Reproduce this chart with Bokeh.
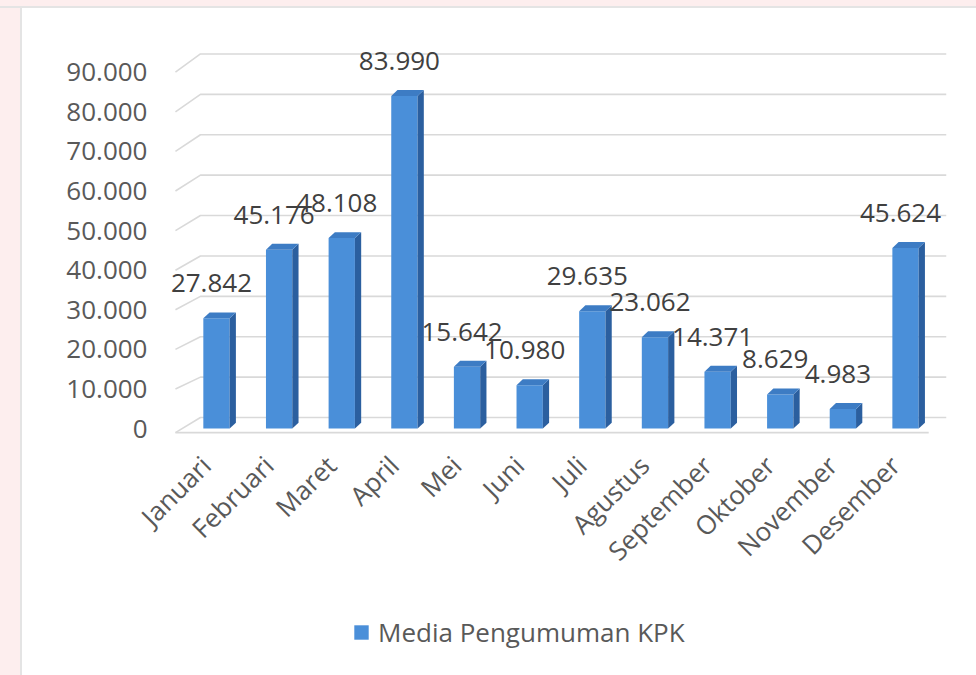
import numpy as np
from bokeh.plotting import figure
from bokeh.models import (Range1d, FixedTicker, ColumnDataSource, LabelSet,
                          Legend, LegendItem, Div)
from bokeh.layouts import row, column
from bokeh.core.properties import value
from bokeh.embed import file_html
from bokeh.resources import INLINE

# ---------------- data ----------------
months = ["Januari", "Februari", "Maret", "April", "Mei", "Juni", "Juli",
          "Agustus", "September", "Oktober", "November", "Desember"]
values = [27842, 45176, 48108, 83990, 15642, 10980, 29635, 23062, 14371,
          8629, 4983, 45624]
y_ticks = [0, 10000, 20000, 30000, 40000, 50000, 60000, 70000, 80000, 90000]
y_tick_labels = ["0", "10.000", "20.000", "30.000", "40.000", "50.000",
                 "60.000", "70.000", "80.000", "90.000"]
series_name = "Media Pengumuman KPK"

# ---------------- style ----------------
FONT = "Open Sans"
FRONT = "#4a8fd9"
SIDE = "#2b5f9f"
TOP = "#3d7cc4"
GRID = "#d9d9d9"
TICK_COL = "#595959"
LABEL_COL = "#404040"
PINK = "#fdeeee"
FS = "26px"

x = np.arange(len(months), dtype=float)
v = np.array(values, dtype=float)
w = 0.42      # bar front width (category units)
dx = 0.10     # depth offset x
dy = 1500     # depth offset y
lab_shift = 0.17   # x-label anchor shift (category units)

p = figure(width=954, height=580, output_backend="svg", toolbar_location=None,
           x_range=Range1d(-0.75, 11.75), y_range=Range1d(-3000, 98000),
           min_border_left=147, min_border_right=24, min_border_top=32,
           min_border_bottom=148)
p.background_fill_color = "white"
p.border_fill_color = "white"
p.outline_line_color = None
p.xgrid.visible = False
p.ygrid.visible = False

# 3D-like gridlines (front-left diagonal + back wall line)
gxs, gys = [], []
for t in y_ticks:
    front = t if t > 0 else -1000
    back = t * 1.02 + 2800
    gxs.append([-0.655, -0.256, 11.65])
    gys.append([front, back, back])
# floor front edge
gxs.append([-0.655, 11.37])
gys.append([-1000, -1000])
p.multi_line(gxs, gys, line_color=GRID, line_width=1.6)

# bars
src = ColumnDataSource(dict(
    x=x, v=v, left=x - w / 2, right=x + w / 2,
    label=[f"{int(val):,}".replace(",", ".") for val in values]))
p.quad(left="left", right="right", bottom=0, top="v", source=src,
       fill_color=FRONT, line_color=None)
side_xs = [[xi + w / 2, xi + w / 2 + dx, xi + w / 2 + dx, xi + w / 2] for xi in x]
side_ys = [[0, dy, vi + dy, vi] for vi in v]
p.patches(side_xs, side_ys, fill_color=SIDE, line_color=None)
top_xs = [[xi - w / 2, xi - w / 2 + dx, xi + w / 2 + dx, xi + w / 2] for xi in x]
top_ys = [[vi, vi + dy, vi + dy, vi] for vi in v]
p.patches(top_xs, top_ys, fill_color=TOP, line_color=None)

labels = LabelSet(x="x", y="v", text="label", source=src, x_offset=-5,
                  y_offset=35, text_align="center", text_baseline="middle",
                  text_font=value(FONT), text_font_size=FS,
                  text_color=LABEL_COL)
p.add_layout(labels)

# axes
p.yaxis.ticker = FixedTicker(ticks=y_ticks)
p.yaxis.major_label_overrides = dict(zip(y_ticks, y_tick_labels))
x_ticks = [round(i - lab_shift, 2) for i in range(len(months))]
p.xaxis.ticker = FixedTicker(ticks=x_ticks)
p.xaxis.major_label_overrides = dict(zip(x_ticks, months))
p.xaxis.major_label_orientation = np.pi / 4
for ax in (p.xaxis[0], p.yaxis[0]):
    ax.axis_line_color = None
    ax.major_tick_line_color = None
    ax.minor_tick_line_color = None
    ax.major_label_text_font = FONT
    ax.major_label_text_font_size = FS
    ax.major_label_text_color = TICK_COL
p.yaxis.major_label_standoff = 16
p.xaxis.major_label_standoff = 14

# legend in its own small figure below the chart (bars lie outside its view)
lf = figure(width=954, height=87, output_backend="svg", toolbar_location=None,
            x_range=Range1d(100, 101), y_range=Range1d(-1, 0),
            min_border_left=0, min_border_right=0, min_border_top=0,
            min_border_bottom=0)
lf.axis.visible = False
lf.grid.visible = False
lf.outline_line_color = None
lf.background_fill_color = "white"
lf.border_fill_color = "white"
leg_r = lf.quad(left="left", right="right", bottom=0, top="v", source=src,
                fill_color=FRONT, line_color=None)
legend = Legend(items=[LegendItem(label=series_name, renderers=[leg_r])],
                location=(183, 25), orientation="horizontal",
                border_line_color=None, background_fill_alpha=0,
                label_text_font=FONT, label_text_font_size=FS,
                label_text_color=TICK_COL, glyph_width=18, glyph_height=18,
                label_standoff=8, margin=0, padding=0)
lf.add_layout(legend, "center")

top_strip = Div(width=976, height=8, margin=0,
                styles={"background-color": PINK,
                        "box-shadow": "inset 0 -2px 0 #e4e4e4"})
left_strip = Div(width=22, height=667, margin=0,
                 styles={"background-color": PINK,
                         "box-shadow": "inset -2px 0 0 #e4e4e4"})
layout = column(top_strip, row(left_strip, column(p, lf, spacing=0), spacing=0),
                spacing=0)

open("out.html", "w").write(file_html(layout, INLINE))
